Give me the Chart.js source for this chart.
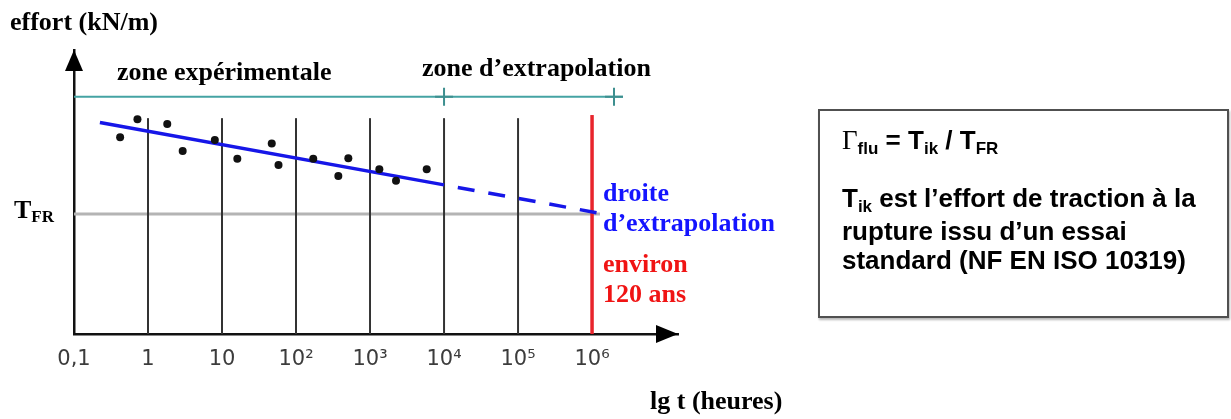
<!DOCTYPE html>
<html><head><meta charset="utf-8">
<script src="https://cdn.jsdelivr.net/npm/chart.js@4.4.0/dist/chart.umd.min.js"></script>
<style>
html,body{margin:0;padding:0;background:#fff;}
#wrap{position:relative;width:1231px;height:419px;overflow:hidden;}
#wrap canvas{position:absolute;left:0;top:0;}
.t{position:absolute;white-space:nowrap;font-family:"Liberation Serif","Times New Roman",serif;font-weight:bold;font-size:26px;line-height:26px;color:#000;}
.blue{color:#1414ff;}
.red{color:#f01414;}
.sub{font-size:17px;position:relative;top:4px;}
#box{position:absolute;left:818px;top:109px;width:407px;height:205px;border:2px solid #505050;box-shadow:1px 2px 2px #b8b8b8;background:#fff;}
.bt{position:absolute;left:22px;white-space:nowrap;font-family:"Liberation Sans",Arial,sans-serif;font-weight:bold;font-size:26px;line-height:29.5px;color:#000;}
.bsub{font-size:17px;position:relative;top:5px;}
.gam{font-family:"Liberation Serif","Times New Roman",serif;font-weight:normal;font-size:27px;}
</style></head>
<body>
<div id="wrap">
<canvas id="c" width="1231" height="419"></canvas>
<div class="t" style="left:10px;top:9px;">effort (kN/m)</div>
<div class="t" style="left:117px;top:59px;">zone expérimentale</div>
<div class="t" style="left:422px;top:55px;">zone d’extrapolation</div>
<div class="t blue" style="left:603px;top:180px;">droite</div>
<div class="t blue" style="left:603px;top:210px;">d’extrapolation</div>
<div class="t red" style="left:603px;top:251px;">environ</div>
<div class="t red" style="left:603px;top:281px;">120 ans</div>
<div class="t" style="left:650px;top:388px;">lg t (heures)</div>
<div class="t" style="left:14px;top:197px;">T<span class="sub">FR</span></div>
<div id="box">
  <div class="bt" style="top:15px;"><span class="gam">Γ</span><span class="bsub">flu</span> = T<span class="bsub">ik</span> / T<span class="bsub">FR</span></div>
  <div class="bt" style="top:73px;">T<span class="bsub">ik</span> est l’effort de traction à la<br>rupture issu d’un essai<br>standard (NF EN ISO 10319)</div>
</div>
</div>
<script>
// ---- data ----
const tickValues = [0.1, 1, 10, 100, 1000, 10000, 100000, 1000000];
const tickLabels = ['0,1', '1', '10', '10²', '10³', '10⁴', '10⁵', '10⁶'];
const pointTimes = [0.42, 0.72, 1.82, 2.94, 8.0, 16.1, 47, 58, 171, 373, 509, 1336, 2244, 5834];
const pointEfforts = [69.3, 75.6, 73.9, 64.4, 68.3, 61.7, 67.1, 59.5, 61.7, 55.6, 61.9, 58.0, 54.0, 58.0];
const fitTimes = [0.224, 10000];
const fitEfforts = [74.5, 52.5];
const extrapTimes = [10000, 1.28e6];
const extrapEfforts = [52.5, 42.5];
const tfrTimes = [0.1, 1.28e6];
const tfrEffort = 42.25;
const zoneTimes = [0.1, 10000, 1.98e6, 2.62e6];
const zoneEffort = 83.5;
const lifeTime = 1e6;
const lifeTop = 77.1;
const gridTop = 76.0;
const xMin = 0.1, xMax = 1.45e7;
const yMin = 0, yMax = 100;

const zip = (xs, ys) => xs.map((x, i) => ({x, y: ys[i]}));

const gridSets = tickValues.slice(1, -1).map(t => ({
  type: 'line', data: [{x: t, y: 0}, {x: t, y: gridTop}],
  borderColor: '#333', borderWidth: 2, pointRadius: 0, order: 4
}));

const datasets = [
  {type: 'scatter', data: zip(pointTimes, pointEfforts), backgroundColor: '#111', borderColor: '#111',
   pointRadius: 4, borderWidth: 0, order: 0},
  {type: 'line', data: zip(fitTimes, fitEfforts), borderColor: '#1616e8', borderWidth: 3.5, pointRadius: 0, order: 1},
  {type: 'line', data: zip(extrapTimes, extrapEfforts), borderColor: '#1616e8', borderWidth: 3.5, pointRadius: 0,
   borderDash: [17, 14], borderDashOffset: 17, order: 1},
  {type: 'line', data: [{x: lifeTime, y: 0}, {x: lifeTime, y: lifeTop}], borderColor: '#e8242c', borderWidth: 3.5,
   pointRadius: 0, order: 2},
  ...gridSets,
  {type: 'line', data: zip(tfrTimes, tfrTimes.map(() => tfrEffort)), borderColor: '#b4b4b4', borderWidth: 3,
   pointRadius: 0, order: 5},
  {type: 'line', data: zip(zoneTimes, zoneTimes.map(() => zoneEffort)), borderColor: '#45a3a3', borderWidth: 2,
   pointStyle: 'cross', pointRadius: ctx => (ctx.dataIndex === 1 || ctx.dataIndex === 2) ? 9 : 0,
   pointBorderColor: '#3d8f8f', pointBorderWidth: 2, order: 6}
];

const arrows = {
  id: 'arrows',
  afterDraw(chart) {
    const {ctx, chartArea: a} = chart;
    ctx.save();
    ctx.fillStyle = '#000';
    ctx.beginPath();
    ctx.moveTo(a.right, a.bottom);
    ctx.lineTo(a.right - 22, a.bottom - 9);
    ctx.lineTo(a.right - 22, a.bottom + 9);
    ctx.closePath(); ctx.fill();
    ctx.beginPath();
    ctx.moveTo(a.left, a.top);
    ctx.lineTo(a.left - 9, a.top + 21);
    ctx.lineTo(a.left + 9, a.top + 21);
    ctx.closePath(); ctx.fill();
    ctx.restore();
  }
};

new Chart(document.getElementById('c'), {
  data: {datasets},
  options: {
    responsive: false, animation: false, devicePixelRatio: 1,
    layout: {padding: {left: 74, top: 50, right: 553, bottom: 45}},
    plugins: {legend: {display: false}, tooltip: {enabled: false}},
    scales: {
      x: {
        type: 'logarithmic', min: xMin, max: xMax, position: 'bottom',
        afterBuildTicks: s => { s.ticks = tickValues.map(v => ({value: v})); },
        afterFit: s => { s.height = 40; },
        grid: {display: false, drawTicks: false},
        border: {display: true, color: '#111', width: 2.5},
        ticks: {autoSkip: false, maxRotation: 0, padding: 13, color: '#3c3c3c',
                font: {family: 'DejaVu Sans', size: 21},
                callback: (v, i) => tickLabels[i]}
      },
      y: {
        type: 'linear', min: yMin, max: yMax, position: 'left',
        afterFit: s => { s.width = 0; },
        grid: {display: false, drawTicks: false},
        border: {display: true, color: '#111', width: 2.5},
        ticks: {display: false}
      }
    }
  },
  plugins: [arrows]
});
</script>
</body></html>
